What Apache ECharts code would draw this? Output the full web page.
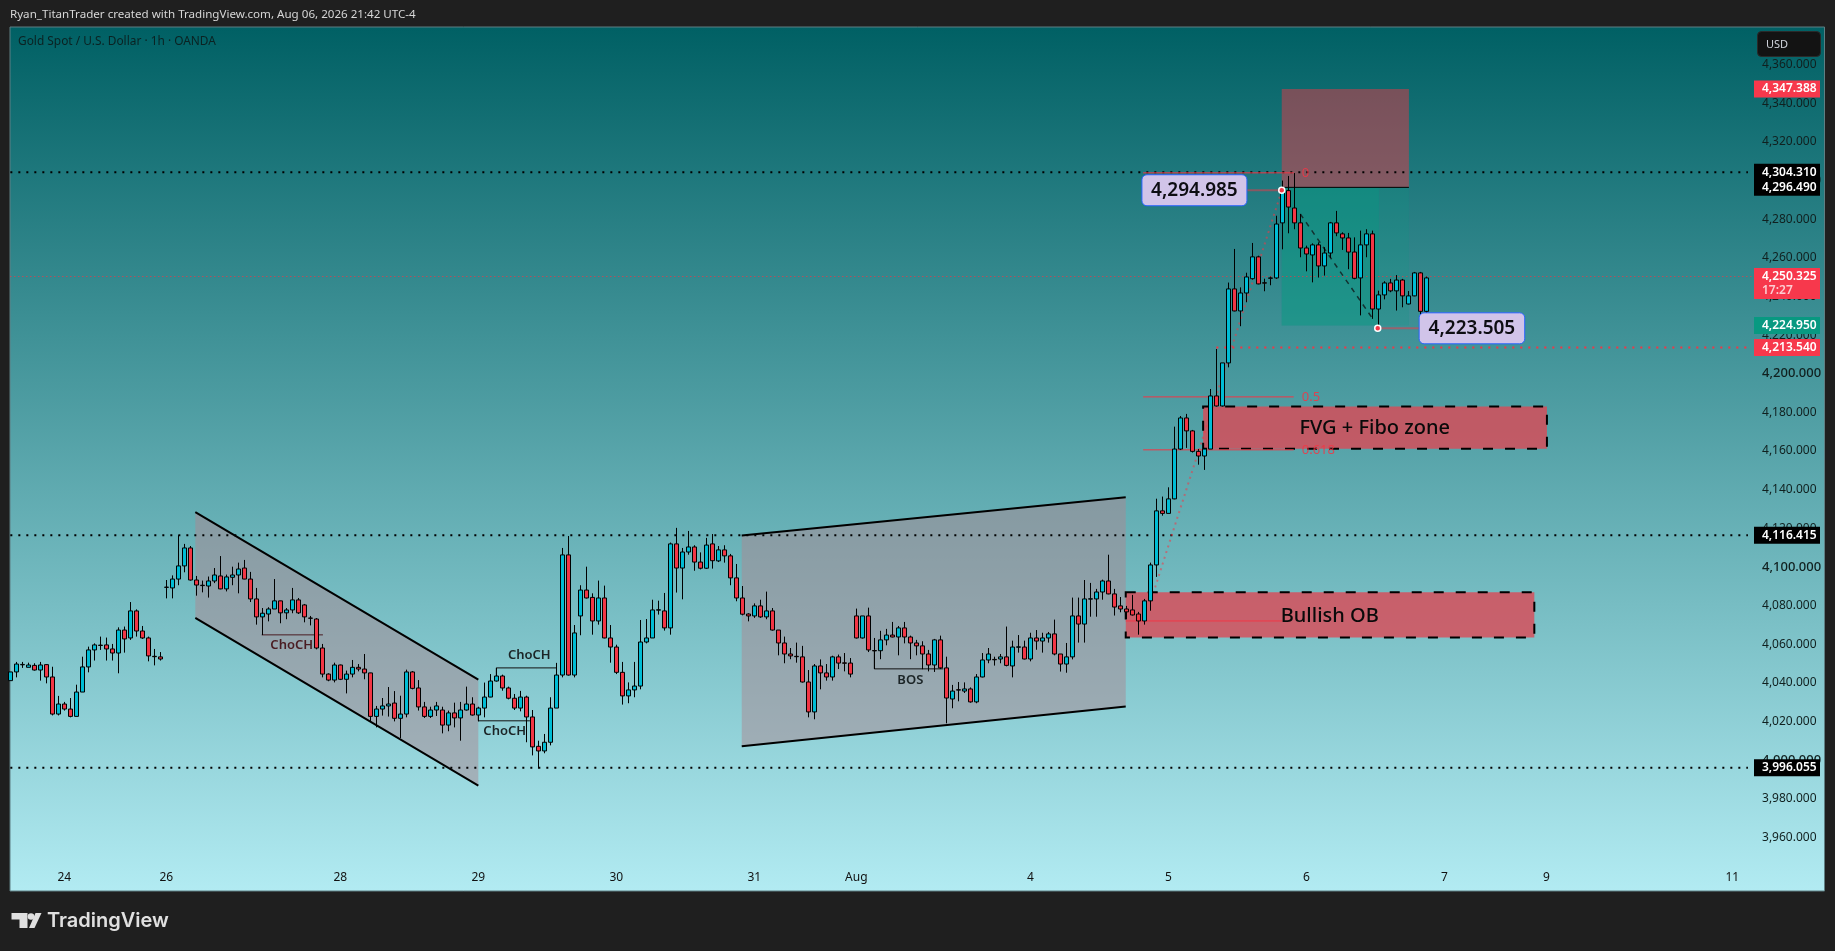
<!DOCTYPE html>
<html>
<head>
<meta charset="utf-8">
<title>XAUUSD 1h</title>
<script src="https://cdn.jsdelivr.net/npm/echarts@6/dist/echarts.min.js"></script>
<style>
  html, body { margin: 0; padding: 0; background: #1f1f1f; }
  #chart { width: 1835px; height: 951px; }
</style>
</head>
<body>
<div id="chart"></div>
<script>
// Hourly candles
const opens = [
  4041.1,4045.6,4049.3,4048.0,4049.0,4046.6,4049.4,4043.0,4023.8,4029.0,
  4026.4,4022.6,4035.2,4048.2,4057.0,4059.3,4059.6,4057.5,4055.4,4067.3,
  4063.2,4077.2,4066.8,4063.2,4053.7,4053.4,4089.5,4089.1,4093.7,4100.5,
  4109.8,4093.2,4090.5,4090.1,4092.7,4095.3,4088.6,4094.6,4095.8,4099.4,
  4093.7,4083.4,4074.1,4075.6,4078.2,4082.4,4076.2,4077.7,4082.9,4080.3,
  4073.5,4073.0,4058.0,4044.5,4041.4,4049.2,4041.8,4044.5,4048.0,4047.1,
  4045.1,4022.6,4026.4,4028.0,4029.5,4021.6,4023.8,4045.6,4037.3,4027.5,
  4022.6,4025.9,4025.9,4018.1,4024.4,4021.8,4025.9,4029.0,4023.3,4026.9,
  4032.6,4040.9,4043.5,4037.3,4032.0,4026.9,4032.6,4022.3,4007.1,4004.7,
  4009.2,4026.9,4044.0,4106.2,4044.0,4074.6,4088.0,4084.2,4072.0,4083.9,
  4063.2,4058.5,4045.4,4033.2,4036.3,4038.3,4061.1,4063.2,4077.6,4077.2,
  4068.4,4111.9,4099.4,4107.7,4110.3,4102.5,4099.3,4111.9,4103.1,4108.8,
  4105.7,4094.3,4083.9,4075.6,4074.6,4079.8,4074.1,4077.2,4067.3,4060.6,
  4054.9,4053.7,4053.4,4040.4,4024.9,4048.7,4045.1,4043.0,4053.4,4050.3,
  4050.2,4074.6,4063.2,4074.6,4056.7,4056.6,4062.2,4064.7,4063.7,4068.4,
  4063.7,4060.6,4059.1,4054.9,4049.2,4062.2,4047.7,4031.6,4036.4,4035.7,
  4036.8,4030.1,4043.0,4051.8,4052.1,4052.3,4053.4,4048.7,4058.4,4058.5,
  4052.3,4063.2,4061.6,4063.2,4065.3,4054.9,4049.7,4053.4,4074.6,4070.4,
  4083.3,4083.4,4087.0,4092.7,4086.0,4079.8,4078.2,4077.7,4075.6,4072.0,
  4082.4,4101.0,4129.0,4127.7,4135.2,4161.0,4177.1,4170.4,4159.8,4157.4,
  4161.0,4188.5,4183.3,4205.6,4243.9,4232.5,4241.8,4249.2,4260.5,4247.1,
  4249.4,4249.6,4278.1,4294.8,4285.8,4278.1,4265.1,4261.5,4266.7,4255.8,
  4262.5,4278.1,4272.4,4270.3,4263.0,4249.6,4266.7,4272.4,4233.5,4240.8,
  4247.0,4242.9,4248.5,4236.1,4240.3,4252.2,4232.3
];
const closes = [
  4045.6,4049.7,4049.5,4049.2,4046.6,4049.2,4043.0,4023.8,4029.0,4026.4,
  4022.6,4035.2,4048.2,4057.0,4059.6,4059.5,4057.5,4055.4,4067.3,4062.7,
  4077.2,4066.8,4063.2,4053.9,4053.5,4052.3,4089.4,4093.7,4100.5,4109.8,
  4093.2,4090.6,4090.3,4092.7,4095.8,4088.6,4094.8,4095.8,4098.9,4093.7,
  4083.4,4074.1,4076.0,4078.2,4082.4,4076.2,4077.7,4082.9,4076.2,4074.1,
  4073.4,4058.0,4044.5,4041.4,4049.2,4041.8,4044.5,4048.0,4047.1,4045.1,
  4022.6,4026.4,4028.0,4029.0,4021.6,4023.8,4045.6,4037.1,4027.5,4022.6,
  4025.9,4028.0,4018.1,4024.4,4021.8,4025.9,4029.0,4023.3,4026.9,4032.6,
  4040.9,4043.5,4037.3,4032.0,4026.9,4032.6,4022.3,4006.8,4004.7,4009.2,
  4026.9,4044.0,4106.2,4044.0,4065.8,4088.0,4083.9,4072.0,4083.9,4063.2,
  4058.5,4045.4,4033.2,4036.3,4038.3,4061.1,4063.2,4077.7,4077.8,4068.4,
  4111.9,4099.4,4107.7,4110.3,4102.5,4099.3,4111.3,4103.2,4108.8,4105.7,
  4094.3,4083.9,4075.5,4074.6,4079.8,4074.1,4077.2,4067.3,4060.6,4054.9,
  4053.9,4053.5,4040.4,4024.9,4048.7,4045.1,4043.0,4053.4,4050.2,4050.1,
  4044.5,4063.2,4074.6,4057.0,4056.5,4062.2,4064.7,4063.7,4068.4,4063.7,
  4060.6,4059.1,4054.9,4049.2,4062.2,4047.7,4032.1,4035.7,4036.2,4036.8,
  4030.1,4043.0,4051.8,4054.9,4051.9,4053.4,4049.0,4058.5,4058.6,4052.3,
  4063.2,4061.6,4063.2,4065.3,4054.9,4049.7,4053.4,4074.6,4070.4,4083.4,
  4083.5,4087.0,4092.7,4086.0,4079.2,4078.2,4076.7,4075.1,4072.0,4082.4,
  4101.0,4129.0,4127.7,4135.2,4161.0,4177.1,4170.4,4159.8,4157.4,4161.0,
  4188.5,4183.3,4205.6,4243.9,4232.5,4241.8,4250.1,4260.5,4246.5,4246.9,
  4249.6,4277.5,4294.8,4286.3,4278.1,4265.1,4262.0,4266.7,4255.8,4262.5,
  4278.1,4272.9,4270.3,4263.0,4249.4,4266.7,4272.4,4233.5,4240.8,4247.0,
  4242.9,4248.5,4240.3,4240.3,4252.2,4232.3,4249.6
];
const lows = [
  4041.1,4042.8,4047.7,4048.0,4046.3,4041.1,4039.7,4023.1,4023.1,4025.6,
  4022.1,4022.6,4035.2,4045.4,4051.5,4057.0,4051.5,4051.5,4044.9,4055.6,
  4062.2,4063.9,4062.7,4051.1,4049.0,4051.5,4083.7,4083.7,4090.5,4097.2,
  4092.9,4085.1,4086.8,4084.1,4091.6,4088.4,4087.3,4090.5,4086.3,4093.6,
  4081.8,4070.1,4064.7,4071.8,4078.2,4070.8,4072.9,4076.0,4075.6,4071.3,
  4069.7,4057.3,4042.8,4040.8,4040.2,4041.4,4034.5,4042.8,4045.9,4041.8,
  4019.7,4016.9,4023.0,4022.5,4020.0,4011.4,4022.1,4036.6,4025.6,4021.8,
  4021.8,4022.8,4013.8,4014.9,4016.9,4010.0,4025.6,4023.0,4020.0,4022.1,
  4032.5,4040.6,4035.9,4031.4,4025.9,4025.2,4009.2,4002.4,3995.6,4003.5,
  4007.6,4026.9,4042.8,4043.7,4042.8,4064.6,4083.6,4064.9,4070.1,4063.0,
  4050.4,4044.5,4028.7,4029.4,4032.5,4036.6,4060.4,4063.2,4075.3,4067.0,
  4064.9,4086.7,4083.2,4106.3,4098.0,4098.7,4098.9,4099.1,4102.5,4102.2,
  4090.5,4082.2,4074.9,4071.8,4073.6,4073.6,4072.9,4067.0,4054.2,4050.1,
  4052.2,4050.4,4040.1,4022.1,4021.1,4036.6,4041.1,4041.1,4047.1,4045.9,
  4042.8,4062.9,4062.9,4055.9,4047.1,4052.2,4059.4,4063.5,4054.2,4060.4,
  4052.2,4054.2,4047.0,4045.9,4045.6,4047.1,4019.0,4026.8,4030.4,4034.7,
  4029.7,4029.4,4042.8,4050.1,4048.9,4050.1,4048.5,4042.8,4055.6,4052.1,
  4051.1,4057.1,4055.6,4060.8,4054.2,4045.8,4045.2,4052.1,4060.8,4060.8,
  4074.2,4074.2,4083.0,4085.8,4074.8,4076.5,4073.0,4074.8,4064.9,4070.1,
  4077.3,4094.8,4126.5,4127.7,4135.0,4160.5,4161.6,4159.2,4152.9,4150.2,
  4161.0,4183.0,4183.0,4203.3,4232.3,4224.6,4237.0,4248.7,4246.3,4242.7,
  4245.8,4249.1,4264.4,4272.7,4274.8,4260.3,4253.0,4247.3,4249.8,4250.8,
  4259.9,4271.2,4264.1,4254.1,4248.9,4230.2,4260.3,4228.4,4223.2,4238.5,
  4242.2,4232.7,4234.4,4235.9,4240.1,4229.7,4231.0
];
const highs = [
  4045.6,4050.8,4050.8,4050.4,4050.1,4050.8,4049.7,4048.3,4033.2,4030.1,
  4032.1,4039.0,4053.5,4058.7,4060.4,4063.9,4063.4,4060.1,4068.7,4069.1,
  4081.8,4078.0,4069.4,4063.9,4057.5,4055.9,4093.2,4095.6,4116.4,4111.9,
  4110.8,4095.3,4092.9,4095.0,4099.4,4105.6,4096.0,4100.1,4102.2,4103.6,
  4097.4,4089.1,4078.7,4079.1,4093.7,4082.5,4078.7,4089.1,4083.9,4080.8,
  4074.6,4073.5,4060.1,4044.9,4050.4,4049.4,4046.3,4051.8,4049.7,4054.9,
  4045.2,4028.0,4032.1,4037.8,4035.7,4033.3,4046.8,4046.1,4041.4,4030.1,
  4027.6,4030.1,4027.6,4025.6,4029.7,4030.1,4038.0,4032.5,4027.6,4040.1,
  4044.5,4047.7,4044.2,4038.0,4034.2,4035.8,4033.3,4025.9,4010.0,4013.5,
  4032.5,4050.3,4109.8,4116.0,4069.9,4090.5,4100.1,4086.3,4092.9,4090.3,
  4069.9,4059.7,4050.8,4040.2,4050.8,4072.5,4073.0,4083.0,4082.5,4086.5,
  4112.6,4120.2,4109.8,4118.6,4111.2,4107.5,4115.0,4117.0,4110.8,4111.2,
  4106.7,4101.5,4090.1,4076.0,4081.1,4083.0,4087.2,4078.7,4067.3,4063.9,
  4058.0,4060.8,4059.1,4046.6,4049.7,4052.1,4049.7,4054.0,4054.6,4055.4,
  4052.8,4078.4,4074.6,4078.9,4063.2,4066.9,4067.9,4071.5,4069.4,4071.5,
  4064.4,4062.2,4061.5,4057.0,4062.7,4064.4,4053.5,4038.9,4040.4,4040.2,
  4037.6,4044.5,4055.4,4058.0,4053.5,4054.9,4069.1,4061.8,4064.7,4061.8,
  4065.9,4067.3,4065.9,4066.3,4072.7,4054.9,4060.6,4084.1,4084.1,4093.2,
  4091.7,4088.6,4093.4,4106.3,4088.6,4084.4,4079.8,4085.5,4076.7,4083.4,
  4102.2,4135.3,4136.4,4141.2,4172.6,4178.1,4179.2,4170.9,4161.0,4161.6,
  4192.1,4212.8,4205.6,4247.2,4264.6,4244.7,4252.3,4267.7,4261.1,4249.2,
  4250.3,4281.8,4300.0,4302.4,4303.9,4282.7,4266.3,4267.5,4268.0,4265.5,
  4278.6,4284.3,4273.2,4272.9,4270.6,4274.1,4274.8,4274.1,4243.0,4247.9,
  4249.1,4251.1,4249.1,4242.8,4252.7,4252.7,4250.3
];

const BAR_SLOTS = 302; // bars fitting the full plot width at this zoom level
const barIndex = Array.from({ length: BAR_SLOTS + 1 }, (_, i) => i);

const priceTicks = [3960,3980,4000,4020,4040,4060,4080,4100,4120,4140,4160,4180,4200,4220,4240,4260,4280,4300,4320,4340,4360];
const timeTickBars = [9,26,55,78,101,124,141,170,193,216,239,256,287];
const timeTickLabels = ["24","26","28","29","30","31","Aug","4","5","6","7","9","11"];

// Drawings, x in bars and y in price
const channelDown = [[30.83,4128.4],[78,4041.6],[78,3986.8],[30.83,4073.6]];
const channelUp = [[121.9,4116.2],[185.9,4136.0],[185.9,4027.7],[121.9,4007.1]];
const levelLines = [4304.31, 4116.415, 3996.055];
const LAST_PRICE = 4250.325, STOP_LEVEL = 4213.54;
const fibLevels = [[4304.0,"0"],[4188.0,"0.5"],[4160.6,"0.618"]];
const fibBars = [188.8, 213.9];
const obZone = { bars: [185.9,254], prices: [4086.8,4063.5], midline: 4072.0, midBars: [185.9,212], label: "Bullish OB", labelBar: 219.9, labelPrice: 4074.5 };
const fvgZone = { bars: [198.8,256.1], prices: [4183.0,4161.1], label: "FVG + Fibo zone", labelBar: 227.4, labelPrice: 4172.0 };
const riskBox = { bars: [211.9,233.1], prices: [4347.388,4296.49] };
const rewardBox = { bars: [211.9,233.1], prices: [4296.49,4224.95], innerEnd: 228.1 };
const riseLeg = [[190.8,4089.4],[211.9,4294.8]];
const fallLeg = [[215,4282.7],[226.9,4229.2]];
const structure = [
  { path: [[41.9,4064.8],[52.1,4064.8]], text: "ChoCH", bar: 46.9, price: 4059.2, dark: true },
  { path: [[81,4043.5],[81,4047.7],[91,4047.7]], text: "ChoCH", bar: 86.5, price: 4054.1 },
  { path: [[78,4026.9],[78,4020.3],[86.6,4020.3]], text: "ChoCH", bar: 82.4, price: 4014.7 },
  { path: [[144,4056.6],[144,4047.2],[155.5,4047.2]], text: "BOS", bar: 150, price: 4041.5 }
];
const callouts = [
  { price: 4294.985, text: "4,294.985", bar: 211.9, boxBars: [188.6,206.1] },
  { price: 4223.505, text: "4,223.505", bar: 227.9, boxBars: [234.8,252.4] }
];
const priceTags = [
  { price: 4347.388, text: "4,347.388", fill: "#f7384c" },
  { price: 4304.31, text: "4,304.310", fill: "#000000" },
  { price: 4296.49, text: "4,296.490", fill: "#000000" },
  { price: 4224.95, text: "4,224.950", fill: "#089981" },
  { price: 4213.54, text: "4,213.540", fill: "#f7384c" },
  { price: 4116.415, text: "4,116.415", fill: "#000000" },
  { price: 3996.055, text: "3,996.055", fill: "#000000" }
];
const COUNTDOWN = "17:27";

const FONT = '"Noto Sans", sans-serif';
const RED = "#f23645";

const chart = echarts.init(document.getElementById("chart"), null, { renderer: "canvas" });

function lineEl(a, b, style) {
  return { type: "line", shape: { x1: a[0], y1: a[1], x2: b[0], y2: b[1] }, style: Object.assign({ fill: null }, style) };
}
function textEl(x, y, text, fill, font, align) {
  return { type: "text", style: { x, y, text, fill, font, align: align || "center", verticalAlign: "middle", textAlign: align || "center", textVerticalAlign: "middle" } };
}
function rectOf(pt, bars, prices) {
  const a = pt(bars[0], prices[0]), b = pt(bars[1], prices[1]);
  return { x: a[0], y: a[1], width: b[0] - a[0], height: b[1] - a[1] };
}

function renderUnder(params, api) {
  const pt = (x, p) => api.coord([x, p]);
  const kids = [];

  // plot background
  kids.push({
    type: "rect", shape: { x: 10, y: 27, width: 1814.5, height: 864 },
    style: {
      fill: new echarts.graphic.LinearGradient(0, 0, 0, 1, [{ offset: 0, color: "#006064" }, { offset: 1, color: "#b2ebf2" }]),
      stroke: "#5f7f83", lineWidth: 1
    }
  });

  // channels
  [channelDown, channelUp].forEach(ch => {
    const pts = ch.map(c => pt(c[0], c[1]));
    kids.push({ type: "polygon", shape: { points: pts }, style: { fill: "rgba(170,135,145,0.5)" } });
    kids.push(lineEl(pts[0], pts[1], { stroke: "#000", lineWidth: 2 }));
    kids.push(lineEl(pts[3], pts[2], { stroke: "#000", lineWidth: 2 }));
  });

  // position tool
  kids.push({ type: "rect", shape: rectOf(pt, riskBox.bars, riskBox.prices), style: { fill: "rgba(242,54,69,0.47)" } });
  kids.push({ type: "rect", shape: rectOf(pt, rewardBox.bars, rewardBox.prices), style: { fill: "rgba(8,153,129,0.2)" } });
  kids.push({ type: "rect", shape: rectOf(pt, [rewardBox.bars[0], rewardBox.innerEnd], rewardBox.prices), style: { fill: "rgba(8,153,129,0.4)" } });
  kids.push(lineEl(pt(212.4, riskBox.prices[1]), pt(riskBox.bars[1], riskBox.prices[1]), { stroke: "#000", lineWidth: 1 }));

  // zones
  [obZone, fvgZone].forEach(z => {
    kids.push({ type: "rect", shape: rectOf(pt, z.bars, z.prices), style: { fill: "rgba(220,73,85,0.8)", stroke: "#000", lineWidth: 2, lineDash: [10, 12] } });
  });
  kids.push(lineEl(pt(obZone.midBars[0], obZone.midline), pt(obZone.midBars[1], obZone.midline), { stroke: RED, lineWidth: 1 }));

  // levels
  levelLines.forEach(p => kids.push(lineEl(pt(0, p), pt(289.6, p), { stroke: "#000", lineWidth: 2, lineDash: [2, 6] })));
  kids.push(lineEl(pt(0, LAST_PRICE), pt(290.6, LAST_PRICE), { stroke: RED, lineWidth: 1, lineDash: [1, 3] }));
  kids.push(lineEl(pt(201, STOP_LEVEL), pt(289.6, STOP_LEVEL), { stroke: RED, lineWidth: 2, lineDash: [2, 6] }));

  // fib levels
  fibLevels.forEach(f => {
    kids.push(lineEl(pt(fibBars[0], f[0]), pt(fibBars[1], f[0]), { stroke: RED, lineWidth: 1 }));
    kids.push(textEl(pt(fibBars[1], f[0])[0] + 8, pt(0, f[0])[1], f[1], "rgba(242,54,69,0.85)", "13px " + FONT, "left"));
  });

  // swing legs
  kids.push(lineEl(pt(riseLeg[0][0], riseLeg[0][1]), pt(riseLeg[1][0], riseLeg[1][1]), { stroke: "rgba(242,54,69,0.55)", lineWidth: 2, lineDash: [2, 4] }));
  kids.push(lineEl(pt(fallLeg[0][0], fallLeg[0][1]), pt(fallLeg[1][0], fallLeg[1][1]), { stroke: "#12302f", lineWidth: 1.5, lineDash: [5, 5] }));

  // market structure marks
  structure.forEach(s => {
    const stroke = s.dark ? "#4a1c22" : "#111";
    const pts = s.path.map(c => pt(c[0], c[1]));
    for (let i = 1; i < pts.length; i++) kids.push(lineEl(pts[i - 1], pts[i], { stroke, lineWidth: 1 }));
    const at = pt(s.bar, s.price);
    kids.push(textEl(at[0], at[1], s.text, s.dark ? "#4a1c22" : "#1b2426", "600 13px " + FONT));
  });

  return { type: "group", children: kids };
}

function renderOver(params, api) {
  const pt = (x, p) => api.coord([x, p]);
  const kids = [];

  // zone captions
  [obZone, fvgZone].forEach(z => {
    const at = pt(z.labelBar, z.labelPrice);
    kids.push(textEl(at[0], at[1], z.label, "#0a0a0a", "500 20px " + FONT));
  });

  // price callouts
  callouts.forEach(c => {
    const tip = pt(c.bar, c.price);
    const a = pt(c.boxBars[0], c.price), b = pt(c.boxBars[1], c.price);
    const edge = a[0] > tip[0] ? a[0] : b[0];
    kids.push(lineEl(tip, [edge, tip[1]], { stroke: "rgba(242,54,69,0.5)", lineWidth: 2 }));
    kids.push({ type: "circle", shape: { cx: tip[0], cy: tip[1], r: 3 }, style: { fill: RED, stroke: "#ffffff", lineWidth: 1.5 } });
    kids.push({
      type: "rect", shape: { x: a[0], y: tip[1] - 15.5, width: b[0] - a[0], height: 31, r: 5 },
      style: { fill: "#d1c4e9", stroke: "#2962ff", lineWidth: 1 }
    });
    kids.push(textEl((a[0] + b[0]) / 2, tip[1], c.text, "#0d0d12", "600 19px " + FONT));
  });

  // axis tags
  const TAG_X = 1754, TAG_W = 66, TAG_H = 17, TEXT_X = 1762;
  priceTags.forEach(t => {
    const y = pt(0, t.price)[1];
    kids.push({ type: "rect", shape: { x: TAG_X, y: y - TAG_H / 2, width: TAG_W, height: TAG_H }, style: { fill: t.fill } });
    kids.push(textEl(TEXT_X, y, t.text, "#ffffff", "600 12px " + FONT, "left"));
  });
  const lastY = pt(0, LAST_PRICE)[1];
  kids.push({ type: "rect", shape: { x: TAG_X, y: lastY - 8.5, width: TAG_W, height: 31 }, style: { fill: "#f7384c" } });
  kids.push(textEl(TEXT_X, lastY, LAST_PRICE.toLocaleString("en-US", { minimumFractionDigits: 3 }), "#ffffff", "600 12px " + FONT, "left"));
  kids.push(textEl(TEXT_X, lastY + 14, COUNTDOWN, "rgba(255,255,255,0.75)", "600 12px " + FONT, "left"));

  return { type: "group", children: kids };
}

chart.setOption({
  backgroundColor: "#1f1f1f",
  animation: false,
  grid: { left: 10.33, top: 27.6, width: 1812, height: 863, containLabel: false },
  xAxis: [
    {
      type: "category", data: barIndex, boundaryGap: false,
      axisLine: { show: false }, axisTick: { show: false }, axisLabel: { show: false }, splitLine: { show: false }
    },
    {
      type: "value", min: 0, max: BAR_SLOTS, position: "bottom", z: 2.5,
      axisLine: { show: false }, axisTick: { show: false }, splitLine: { show: false },
      axisLabel: {
        inside: true, margin: 7, color: "#111", fontFamily: FONT, fontSize: 12,
        customValues: timeTickBars,
        formatter: v => timeTickLabels[timeTickBars.indexOf(v)] ?? ""
      }
    }
  ],
  yAxis: {
    type: "value", position: "right", min: 3932.4, max: 4379.2, scale: true, z: 2.5,
    axisLine: { show: false }, axisTick: { show: false }, splitLine: { show: false },
    axisLabel: {
      inside: true, margin: 60.3, align: "left", color: "#10201f", fontFamily: FONT, fontSize: 12,
      customValues: priceTicks,
      formatter: v => {
        const s = v.toLocaleString("en-US", { minimumFractionDigits: 3 });
        return v % 100 === 0 ? "{major|" + s + "}" : s;
      },
      rich: { major: { fontFamily: FONT, fontSize: 13, fontWeight: 500, color: "#10201f" } }
    }
  },
  graphic: [
    { type: "text", z: 100, style: { x: 10, y: 15, text: "Ryan_TitanTrader created with TradingView.com, Aug 06, 2026 21:42 UTC-4", fill: "#d6d6d6", font: "11.6px " + FONT, verticalAlign: "middle" } },
    { type: "text", z: 100, style: { x: 18, y: 42, text: "Gold Spot / U.S. Dollar · 1h · OANDA", fill: "#0b2222", font: "11.9px " + FONT, verticalAlign: "middle" } },
    { type: "rect", z: 100, shape: { x: 1757.5, y: 31.5, width: 63, height: 25, r: 4 }, style: { fill: "#131313", stroke: "#2a2a2a", lineWidth: 1 } },
    { type: "text", z: 101, style: { x: 1766, y: 44.5, text: "USD", fill: "#d1d4dc", font: "11px " + FONT, verticalAlign: "middle" } },
    { type: "polygon", z: 100, shape: { points: [[11.5,913],[27.5,913],[27.5,928],[19.5,928],[19.5,919.5],[11.5,919.5]] }, style: { fill: "#e0e0e0" } },
    { type: "circle", z: 100, shape: { cx: 31, cy: 916.5, r: 3.3 }, style: { fill: "#e0e0e0" } },
    { type: "polygon", z: 100, shape: { points: [[41.5,913],[34.5,928],[29,928],[35.5,913]] }, style: { fill: "#e0e0e0" } },
    { type: "text", z: 100, style: { x: 47, y: 921, text: "TradingView", fill: "#e0e0e0", font: "600 20px Inter, " + FONT, verticalAlign: "middle" } }
  ],
  series: [
    { name: "drawings", type: "custom", coordinateSystem: "cartesian2d", xAxisIndex: 1, yAxisIndex: 0, z: 1, clip: false, silent: true, data: [[0, 4100]], renderItem: renderUnder },
    {
      name: "XAUUSD", type: "candlestick", xAxisIndex: 0, yAxisIndex: 0, z: 2, barWidth: 5,
      itemStyle: { color: "#00bcd4", color0: "#f23645", borderColor: "#000", borderColor0: "#000", borderWidth: 1 },
      data: opens.map((o, i) => [o, closes[i], lows[i], highs[i]])
    },
    { name: "labels", type: "custom", coordinateSystem: "cartesian2d", xAxisIndex: 1, yAxisIndex: 0, z: 3, clip: false, silent: true, data: [[0, 4100]], renderItem: renderOver }
  ]
});
</script>
</body>
</html>
